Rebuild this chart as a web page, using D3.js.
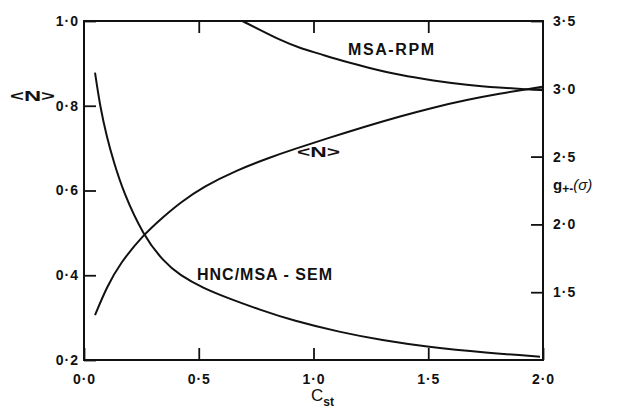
<!DOCTYPE html>
<html>
<head>
<meta charset="utf-8">
<script src="https://cdn.jsdelivr.net/npm/d3@7/dist/d3.min.js"></script>
<style>
  html, body { margin: 0; padding: 0; background: #fff; }
  svg { display: block; }
  text { font-family: "Liberation Sans", Arial, sans-serif; font-weight: bold; fill: #111; }
</style>
</head>
<body>
<svg id="chart" width="630" height="414"></svg>
<script>
// ---- data ----
const xTicks = [0, 0.5, 1.0, 1.5, 2.0];
const xTickLabels = ["0·0", "0·5", "1·0", "1·5", "2·0"];
const leftTicks = [0.2, 0.4, 0.6, 0.8, 1.0];
const leftTickLabels = ["0·2", "0·4", "0·6", "0·8", "1·0"];
const rightTicks = [1.5, 2.0, 2.5, 3.0, 3.5];
const rightTickLabels = ["1·5", "2·0", "2·5", "3·0", "3·5"];

// <N> (left axis)
const nC = [0.048, 0.10, 0.157, 0.258, 0.346, 0.418, 0.52, 0.665, 0.81, 0.912, 1.06, 1.232, 1.377, 1.522, 1.668, 1.813, 1.943, 2.0];
const nVal = [0.306, 0.373, 0.428, 0.495, 0.538, 0.571, 0.609, 0.648, 0.678, 0.697, 0.723, 0.752, 0.775, 0.796, 0.814, 0.829, 0.840, 0.845];

// HNC/MSA-SEM g+-(sigma) (right axis)
const semC = [0.048, 0.07, 0.10, 0.128, 0.171, 0.258, 0.346, 0.418, 0.52, 0.622, 0.767, 0.912, 1.115, 1.3, 1.493, 1.755, 1.987];
const semVal = [3.12, 2.87, 2.64, 2.47, 2.24, 1.92, 1.727, 1.625, 1.53, 1.46, 1.37, 1.29, 1.205, 1.145, 1.097, 1.053, 1.024];

// MSA-RPM g+-(sigma) (right axis)
const rpmC = [0.69, 0.767, 0.854, 0.941, 1.028, 1.086, 1.232, 1.377, 1.522, 1.668, 1.813, 1.929, 2.0];
const rpmVal = [3.5, 3.434, 3.36, 3.299, 3.258, 3.225, 3.158, 3.10, 3.06, 3.028, 3.008, 2.996, 2.99];

// ---- layout ----
const svg = d3.select("#chart");
const L = 84, R = 543, T = 21, B = 360;

const x = d3.scaleLinear().domain([0, 2]).range([L, R]);
const yL = d3.scaleLinear().domain([0.2, 1.0]).range([B, T]);
const yR = d3.scaleLinear().domain([1.0, 3.5]).range([B, T]);

const tickFont = "14px";

function styleAxis(g) {
  g.select(".domain").remove();
  g.selectAll(".tick line").attr("stroke", "#111").attr("stroke-width", 1.8);
  g.selectAll(".tick text").attr("font-size", tickFont).attr("fill", "#111")
    .attr("font-family", '"Liberation Sans", Arial, sans-serif').attr("font-weight", "bold")
    .attr("letter-spacing", "1px");
}

// bottom axis
svg.append("g").attr("transform", `translate(0,${B})`)
  .call(d3.axisBottom(x).tickValues(xTicks).tickSize(-12).tickPadding(14)
    .tickFormat((d, i) => xTickLabels[i]))
  .call(styleAxis);
// top ticks
svg.append("g").attr("transform", `translate(0,${T})`)
  .call(d3.axisTop(x).tickValues(xTicks.slice(1, -1)).tickSize(-12).tickFormat(""))
  .call(styleAxis);
// left axis
svg.append("g").attr("transform", `translate(${L},0)`)
  .call(d3.axisLeft(yL).tickValues(leftTicks).tickSize(-12).tickPadding(5)
    .tickFormat((d, i) => leftTickLabels[i]))
  .call(styleAxis);
// right axis
svg.append("g").attr("transform", `translate(${R},0)`)
  .call(d3.axisRight(yR).tickValues(rightTicks).tickSize(-12).tickPadding(10)
    .tickFormat((d, i) => rightTickLabels[i]))
  .call(styleAxis);

// frame
svg.append("rect").attr("x", L).attr("y", T).attr("width", R - L).attr("height", B - T)
  .attr("fill", "none").attr("stroke", "#111").attr("stroke-width", 2);

// curves
const curve = d3.curveBasis;
const lineN = d3.line().x(d => x(d[0])).y(d => yL(d[1])).curve(curve);
const lineR = d3.line().x(d => x(d[0])).y(d => yR(d[1])).curve(curve);

svg.append("path").datum(d3.zip(nC, nVal)).attr("d", lineN)
  .attr("fill", "none").attr("stroke", "#111").attr("stroke-width", 2);
svg.append("path").datum(d3.zip(semC, semVal)).attr("d", lineR)
  .attr("fill", "none").attr("stroke", "#111").attr("stroke-width", 2);
svg.append("path").datum(d3.zip(rpmC, rpmVal)).attr("d", lineR)
  .attr("fill", "none").attr("stroke", "#111").attr("stroke-width", 2);

// curve labels
svg.append("text").attr("x", 348).attr("y", 55).attr("font-size", "16px")
  .attr("letter-spacing", "1.6px").text("MSA-RPM");
svg.append("text").attr("x", 197).attr("y", 280).attr("font-size", "16px")
  .attr("letter-spacing", "1px").text("HNC/MSA - SEM");
svg.append("text").attr("x", 297).attr("y", 157).attr("font-size", "14px")
  .attr("textLength", 43).attr("lengthAdjust", "spacingAndGlyphs").text("<N>");

// axis titles
svg.append("text").attr("x", 10).attr("y", 101).attr("font-size", "15px")
  .attr("textLength", 45).attr("lengthAdjust", "spacingAndGlyphs").text("<N>");

const gt = svg.append("text").attr("x", 553).attr("y", 190).attr("font-size", "15px");
gt.append("tspan").text("g");
gt.append("tspan").attr("font-size", "12px").attr("dy", 3).text("+-");
gt.append("tspan").attr("dy", -3).attr("font-weight", "normal").attr("font-style", "italic").text("(σ)");

const ct = svg.append("text").attr("x", 311).attr("y", 401).attr("font-size", "17px");
ct.append("tspan").attr("font-weight", "normal").text("C");
ct.append("tspan").attr("font-size", "12px").attr("dy", 5).text("st");
</script>
</body>
</html>
